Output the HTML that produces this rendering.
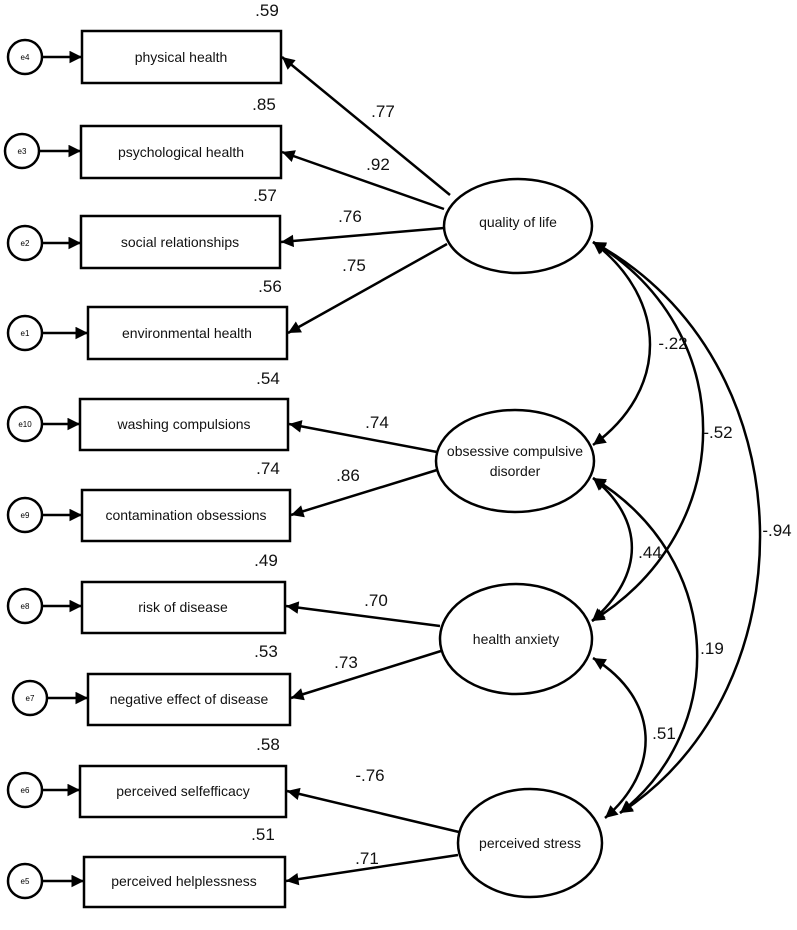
<!DOCTYPE html>
<html><head><meta charset="utf-8"><style>body{margin:0;background:#fff}svg{display:block}</style></head><body>
<svg width="797" height="930" viewBox="0 0 797 930" xmlns="http://www.w3.org/2000/svg" font-family="Liberation Sans, Arial, sans-serif">
<defs>
<marker id="a" viewBox="0 0 10 10" refX="10" refY="5" markerWidth="8" markerHeight="5" markerUnits="strokeWidth" orient="auto-start-reverse"><path d="M0,0 L10,5 L0,10z" fill="#000"/></marker>
</defs>
<g stroke="#000" stroke-width="2.5" fill="#fff">
<rect x="82" y="31" width="199" height="52"/>
<rect x="81" y="126" width="200" height="52"/>
<rect x="81" y="216" width="199" height="52"/>
<rect x="88" y="307" width="199" height="52"/>
<rect x="80" y="399" width="208" height="51"/>
<rect x="82" y="490" width="208" height="51"/>
<rect x="82" y="582" width="203" height="51"/>
<rect x="88" y="674" width="202" height="51"/>
<rect x="80" y="766" width="206" height="51"/>
<rect x="84" y="857" width="201" height="50"/>
<circle cx="25" cy="57" r="17"/><circle cx="22" cy="151" r="17"/><circle cx="25" cy="243" r="17"/><circle cx="25" cy="333" r="17"/><circle cx="25" cy="424" r="17"/><circle cx="25" cy="515" r="17"/><circle cx="25" cy="606" r="17"/><circle cx="30" cy="698" r="17"/><circle cx="25" cy="790" r="17"/><circle cx="25" cy="881" r="17"/>
<ellipse cx="518" cy="226" rx="74" ry="47"/>
<ellipse cx="515" cy="461" rx="79" ry="51"/>
<ellipse cx="516" cy="639" rx="76" ry="55"/>
<ellipse cx="530" cy="843" rx="72" ry="54"/>
</g>
<g stroke="#000" stroke-width="2.5" fill="none" marker-end="url(#a)">
<line x1="42" y1="57" x2="82" y2="57"/><line x1="39" y1="151" x2="81" y2="151"/><line x1="42" y1="243" x2="81" y2="243"/><line x1="42" y1="333" x2="88" y2="333"/><line x1="42" y1="424" x2="80" y2="424"/><line x1="42" y1="515" x2="82" y2="515"/><line x1="42" y1="606" x2="82" y2="606"/><line x1="47" y1="698" x2="88" y2="698"/><line x1="42" y1="790" x2="80" y2="790"/><line x1="42" y1="881" x2="84" y2="881"/>
<line x1="450" y1="195" x2="282" y2="57"/>
<line x1="444" y1="209" x2="282" y2="152"/>
<line x1="444" y1="228" x2="281" y2="242"/>
<line x1="447" y1="244" x2="288" y2="333"/>
<line x1="437" y1="452" x2="289" y2="424"/>
<line x1="437" y1="470" x2="291" y2="515"/>
<line x1="440" y1="626" x2="286" y2="606"/>
<line x1="441" y1="651" x2="291" y2="698"/>
<line x1="459" y1="832" x2="287" y2="791"/>
<line x1="458" y1="855" x2="286" y2="881"/>
<path d="M593,242 C669,300 669,390 593,445" marker-start="url(#a)"/>
<path d="M593,242 C740,330 740,530 592,621" marker-start="url(#a)"/>
<path d="M593,242 C811,360 811,690 620,813" marker-start="url(#a)"/>
<path d="M593,478 C645,520 645,575 592,621" marker-start="url(#a)"/>
<path d="M593,478 C727,560 727,730 620,813" marker-start="url(#a)"/>
<path d="M593,658 C661,700 661,770 605,818" marker-start="url(#a)"/>
</g>
<g font-size="14" text-anchor="middle" fill="#111">
<text x="181" y="62">physical health</text>
<text x="181" y="157">psychological health</text>
<text x="180" y="247">social relationships</text>
<text x="187" y="338">environmental health</text>
<text x="184" y="429">washing compulsions</text>
<text x="186" y="520">contamination obsessions</text>
<text x="183" y="612">risk of disease</text>
<text x="189" y="704">negative effect of disease</text>
<text x="183" y="796">perceived selfefficacy</text>
<text x="184" y="886">perceived helplessness</text>
<text x="518" y="227">quality of life</text>
<text x="515" y="456">obsessive compulsive</text>
<text x="515" y="476">disorder</text>
<text x="516" y="644">health anxiety</text>
<text x="530" y="848">perceived stress</text>
</g>
<g font-size="8" text-anchor="middle">
<text x="25" y="60">e4</text><text x="22" y="154">e3</text><text x="25" y="246">e2</text><text x="25" y="336">e1</text><text x="25" y="427">e10</text><text x="25" y="518">e9</text><text x="25" y="609">e8</text><text x="30" y="701">e7</text><text x="25" y="793">e6</text><text x="25" y="884">e5</text>
</g>
<g font-size="17" text-anchor="middle" fill="#111">
<text x="267" y="16">.59</text><text x="264" y="110">.85</text><text x="265" y="201">.57</text><text x="270" y="292">.56</text><text x="268" y="384">.54</text><text x="268" y="474">.74</text><text x="266" y="566">.49</text><text x="266" y="657">.53</text><text x="268" y="750">.58</text><text x="263" y="840">.51</text>
<text x="383" y="117">.77</text><text x="378" y="170">.92</text><text x="350" y="222">.76</text><text x="354" y="271">.75</text><text x="377" y="428">.74</text><text x="348" y="481">.86</text><text x="376" y="606">.70</text><text x="346" y="668">.73</text><text x="370" y="781">-.76</text><text x="367" y="864">.71</text>
<text x="673" y="349">-.22</text><text x="718" y="438">-.52</text><text x="777" y="536">-.94</text><text x="650" y="558">.44</text><text x="712" y="654">.19</text><text x="664" y="739">.51</text>
</g>
</svg>
</body></html>
